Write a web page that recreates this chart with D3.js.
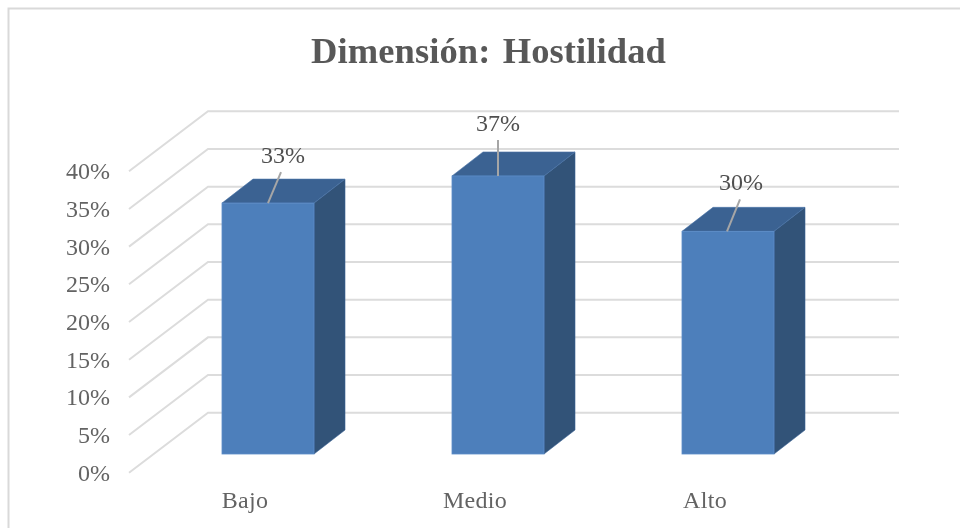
<!DOCTYPE html>
<html><head><meta charset="utf-8">
<script src="https://cdn.jsdelivr.net/npm/d3@7/dist/d3.min.js"></script>
<style>html,body{margin:0;padding:0;background:#fff}svg{display:block}text{font-family:"Liberation Serif",serif}</style>
</head><body><div id="c"></div>
<script>
const categories = ["Bajo","Medio","Alto"];
const values = [0.333,0.369,0.2955];
const yTicks = [0,0.05,0.1,0.15,0.2,0.25,0.3,0.35,0.4];
const titleText = "Dimensión: Hostilidad";

const W=960,H=528;
const svg=d3.select("#c").append("svg").attr("width",W).attr("height",H);
svg.append("defs").append("filter").attr("id","soft").attr("filterUnits","userSpaceOnUse").attr("x",0).attr("y",0).attr("width",W).attr("height",H)
  .append("feGaussianBlur").attr("stdDeviation",0.5);
const root=svg.append("g").attr("filter","url(#soft)");

// frame
root.append("path").attr("d",`M8.5 ${H}V8.5H${W}`).attr("fill","none").attr("stroke","#d9d9d9").attr("stroke-width",2);

root.append("text").attr("x",488.5).attr("y",63.3).attr("text-anchor","middle")
  .attr("font-size",36.5).attr("font-weight","bold").attr("fill","#595959").attr("letter-spacing",0.1).attr("word-spacing",3).text(titleText);

const y=d3.scaleLinear().domain([0,0.4]).range([472.7,171.3]);
const x=d3.scaleBand().domain(categories).range([153,843]).paddingInner(0.6).paddingOuter(0.3);
const wall={dx:79,dy:-60}, wallRight=899;
const barDepth={dx:31,dy:-24};
const barBase=454;
const dy0=y(0)-barBase;

// gridlines
root.append("g").selectAll("path").data(yTicks).join("path")
  .attr("d",d=>`M129 ${y(d)}L${129+wall.dx} ${y(d)+wall.dy}H${wallRight}`)
  .attr("fill","none").attr("stroke","#dcdcdc").attr("stroke-width",2);

// y axis
const ya=root.append("g").attr("transform","translate(110,0)")
  .call(d3.axisLeft(y).tickValues(yTicks).tickFormat(d3.format(".0%")).tickSize(0).tickPadding(0));
ya.select(".domain").remove();
ya.selectAll("text").attr("font-family","Liberation Serif").attr("font-size",24).attr("fill","#636363").attr("dy",0).attr("y",7.5);

// bars
const bars=root.append("g").selectAll("g").data(categories.map((c,i)=>({c,v:values[i]}))).join("g");
const bw=x.bandwidth();
const barTop=d=>y(d.v)-dy0;
bars.append("path").attr("fill","#315278").attr("stroke","#3a6396").attr("stroke-width",.6)
  .attr("d",d=>{const r=x(d.c)+bw;return `M${r} ${barTop(d)}l${barDepth.dx} ${barDepth.dy}V${barBase+barDepth.dy}l${-barDepth.dx} ${-barDepth.dy}Z`});
bars.append("path").attr("fill","#3b6292").attr("stroke","#4a74a8").attr("stroke-width",.6)
  .attr("d",d=>{const l=x(d.c);return `M${l} ${barTop(d)}l${barDepth.dx} ${barDepth.dy}h${bw}l${-barDepth.dx} ${-barDepth.dy}Z`});
bars.append("rect").attr("x",d=>x(d.c)).attr("y",barTop).attr("width",bw).attr("height",d=>barBase-barTop(d))
  .attr("fill","#4e7fbb").attr("stroke","#5b8cc8").attr("stroke-width",.8);

// data labels + leaders
const labelDx=[15,0,13], labelDy=[-40,-45,-41], leaderTopDx=[13,0,13], leaderLen=[31,36,32], leaderX=[0,0,-1];
bars.append("line").attr("stroke","#a6a6a6").attr("stroke-width",2)
  .attr("x1",(d,i)=>x(d.c)+bw/2+leaderX[i]).attr("y1",barTop)
  .attr("x2",(d,i)=>x(d.c)+bw/2+leaderX[i]+leaderTopDx[i]).attr("y2",(d,i)=>barTop(d)-leaderLen[i]);
bars.append("text").attr("text-anchor","middle").attr("font-size",24).attr("fill","#505050")
  .attr("x",(d,i)=>x(d.c)+bw/2+labelDx[i]).attr("y",(d,i)=>barTop(d)+labelDy[i]).text(d=>d3.format(".0%")(d.v));

// x axis
const xa=root.append("g").attr("transform",`translate(-23,507.5)`)
  .call(d3.axisBottom(x).tickSize(0).tickPadding(0));
xa.select(".domain").remove();
xa.selectAll("text").attr("font-family","Liberation Serif").attr("font-size",24).attr("letter-spacing",0.3).attr("fill","#636363").attr("dy",0).attr("y",0);
</script></body></html>
